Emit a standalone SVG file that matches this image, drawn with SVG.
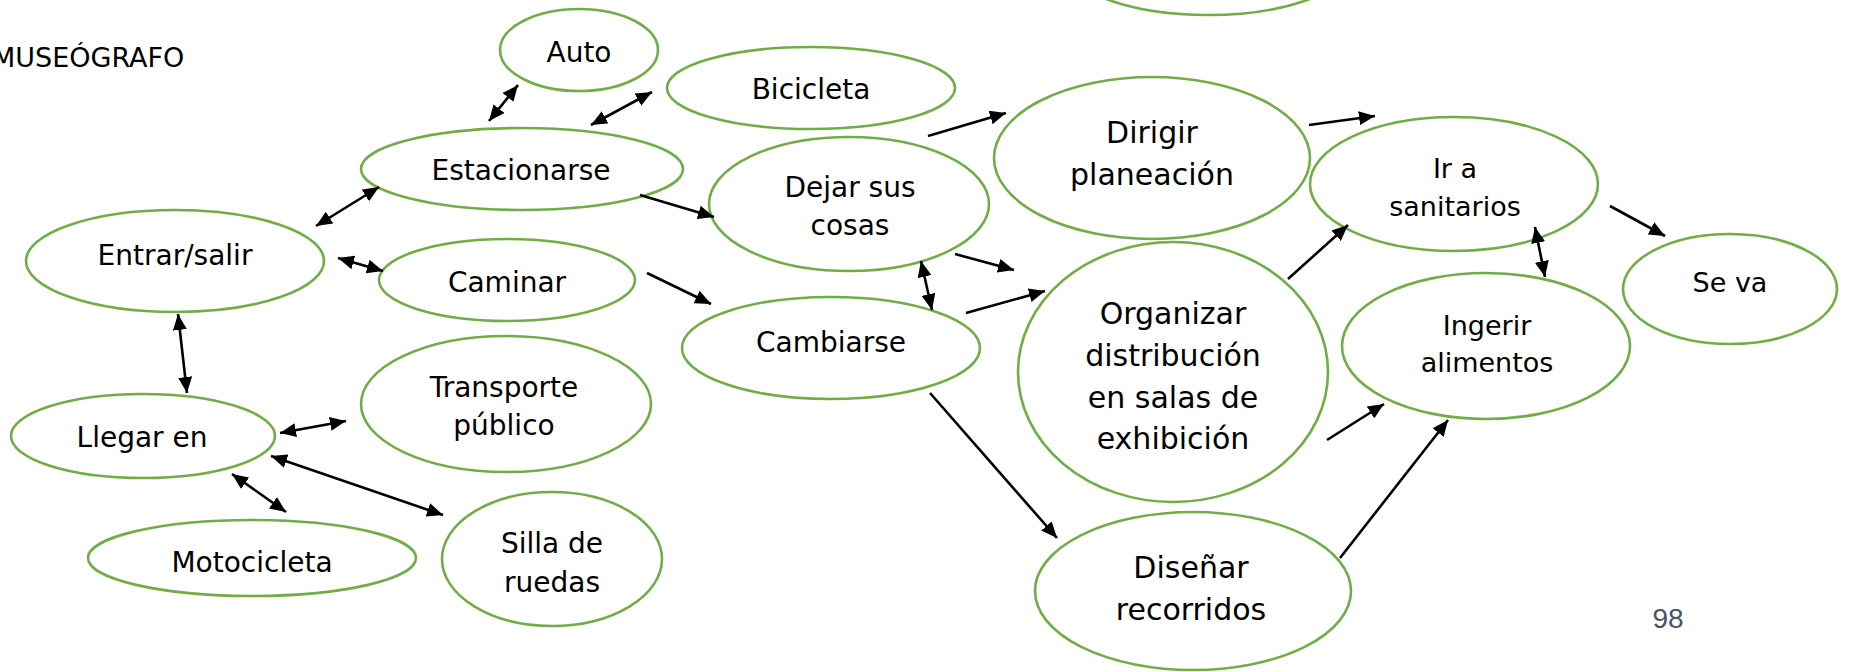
<svg xmlns="http://www.w3.org/2000/svg" width="1849" height="672" viewBox="0 0 1849 672">
<defs>
<style>
.n{fill:#fff;stroke:#70AD47;stroke-width:2.6}
.t{font-family:"DejaVu Sans",sans-serif;font-size:28px;fill:#000;text-anchor:middle}
.b{font-size:30px}
.s{font-size:27px}
.c line{stroke:#000;stroke-width:2.6}
.one{marker-end:url(#ah)}
.two{marker-end:url(#ah);marker-start:url(#ah)}
</style>
<marker id="ah" markerUnits="userSpaceOnUse" markerWidth="17" markerHeight="14" refX="16" refY="7" orient="auto-start-reverse" viewBox="0 0 17 14">
<path d="M0,0 L16,7 L0,14 z" fill="#000"/>
</marker>
</defs>
<rect width="1849" height="672" fill="#fff"/>
<text x="-8" y="67" style="font-family:'DejaVu Sans',sans-serif;font-size:27px;fill:#000">MUSEÓGRAFO</text>
<text x="1668" y="628" style="font-family:'Liberation Sans',sans-serif;font-size:28px;fill:#44546A;text-anchor:middle">98</text>

<g id="top-partial"><ellipse class="n" cx="1208" cy="-45" rx="150" ry="60"/></g>
<g id="auto"><ellipse class="n" cx="579" cy="50" rx="79" ry="41"/><text class="t" x="579" y="62">Auto</text></g>
<g id="bicicleta"><ellipse class="n" cx="811" cy="88" rx="144" ry="41"/><text class="t" x="811" y="99">Bicicleta</text></g>
<g id="estacionarse"><ellipse class="n" cx="522" cy="169" rx="161" ry="41"/><text class="t" x="521" y="180">Estacionarse</text></g>
<g id="entrar"><ellipse class="n" cx="175" cy="261" rx="149" ry="51"/><text class="t" x="175" y="265">Entrar/salir</text></g>
<g id="caminar"><ellipse class="n" cx="507" cy="280" rx="128" ry="41"/><text class="t" x="507" y="292">Caminar</text></g>
<g id="dejar"><ellipse class="n" cx="849" cy="204" rx="140" ry="67"/><text class="t" x="850" y="197">Dejar sus</text><text class="t" x="850" y="235">cosas</text></g>
<g id="cambiarse"><ellipse class="n" cx="831" cy="348" rx="149" ry="51"/><text class="t" x="831" y="352">Cambiarse</text></g>
<g id="dirigir"><ellipse class="n" cx="1152" cy="158" rx="158" ry="81"/><text class="t b" x="1152" y="143">Dirigir</text><text class="t b" x="1152" y="185">planeación</text></g>
<g id="organizar"><ellipse class="n" cx="1173" cy="372" rx="155" ry="130"/><text class="t b" x="1173" y="324">Organizar</text><text class="t b" x="1173" y="366">distribución</text><text class="t b" x="1173" y="408">en salas de</text><text class="t b" x="1173" y="449">exhibición</text></g>
<g id="disenar"><ellipse class="n" cx="1193" cy="591" rx="158" ry="79"/><text class="t b" x="1191" y="578">Diseñar</text><text class="t b" x="1191" y="620">recorridos</text></g>
<g id="sanitarios"><ellipse class="n" cx="1454" cy="184" rx="144" ry="67"/><text class="t s" x="1455" y="178">Ir a</text><text class="t s" x="1455" y="216">sanitarios</text></g>
<g id="ingerir"><ellipse class="n" cx="1486" cy="346" rx="144" ry="73"/><text class="t s" x="1487" y="335">Ingerir</text><text class="t s" x="1487" y="372">alimentos</text></g>
<g id="seva"><ellipse class="n" cx="1730" cy="289" rx="107" ry="55"/><text class="t s" x="1730" y="292">Se va</text></g>
<g id="transporte"><ellipse class="n" cx="506" cy="404" rx="145" ry="68"/><text class="t" x="504" y="397">Transporte</text><text class="t" x="504" y="435">público</text></g>
<g id="llegar"><ellipse class="n" cx="143" cy="436" rx="132" ry="42"/><text class="t" x="142" y="447">Llegar en</text></g>
<g id="moto"><ellipse class="n" cx="252" cy="558" rx="164" ry="38"/><text class="t" x="252" y="572">Motocicleta</text></g>
<g id="silla"><ellipse class="n" cx="552" cy="559" rx="110" ry="67"/><text class="t" x="552" y="553">Silla de</text><text class="t" x="552" y="592">ruedas</text></g>

<g id="connectors" class="c">
<line class="two" x1="489" y1="121" x2="518" y2="85"/>
<line class="two" x1="591" y1="125" x2="652" y2="92"/>
<line class="two" x1="316" y1="226" x2="379" y2="187"/>
<line class="two" x1="338" y1="258" x2="383" y2="271"/>
<line class="one" x1="640" y1="195" x2="714" y2="217"/>
<line class="one" x1="647" y1="273" x2="711" y2="304"/>
<line class="one" x1="928" y1="136" x2="1006" y2="113"/>
<line class="one" x1="955" y1="254" x2="1014" y2="270"/>
<line class="two" x1="921" y1="261" x2="932" y2="310"/>
<line class="one" x1="966" y1="313" x2="1045" y2="291"/>
<line class="one" x1="930" y1="393" x2="1057" y2="538"/>
<line class="one" x1="1309" y1="125" x2="1375" y2="116"/>
<line class="one" x1="1288" y1="279" x2="1348" y2="225"/>
<line class="two" x1="1535" y1="227" x2="1545" y2="277"/>
<line class="one" x1="1610" y1="206" x2="1665" y2="236"/>
<line class="one" x1="1327" y1="440" x2="1384" y2="404"/>
<line class="one" x1="1340" y1="558" x2="1448" y2="420"/>
<line class="two" x1="178" y1="314" x2="187" y2="393"/>
<line class="two" x1="280" y1="433" x2="346" y2="421"/>
<line class="two" x1="271" y1="456" x2="443" y2="515"/>
<line class="two" x1="232" y1="474" x2="286" y2="512"/>
</g>
</svg>
